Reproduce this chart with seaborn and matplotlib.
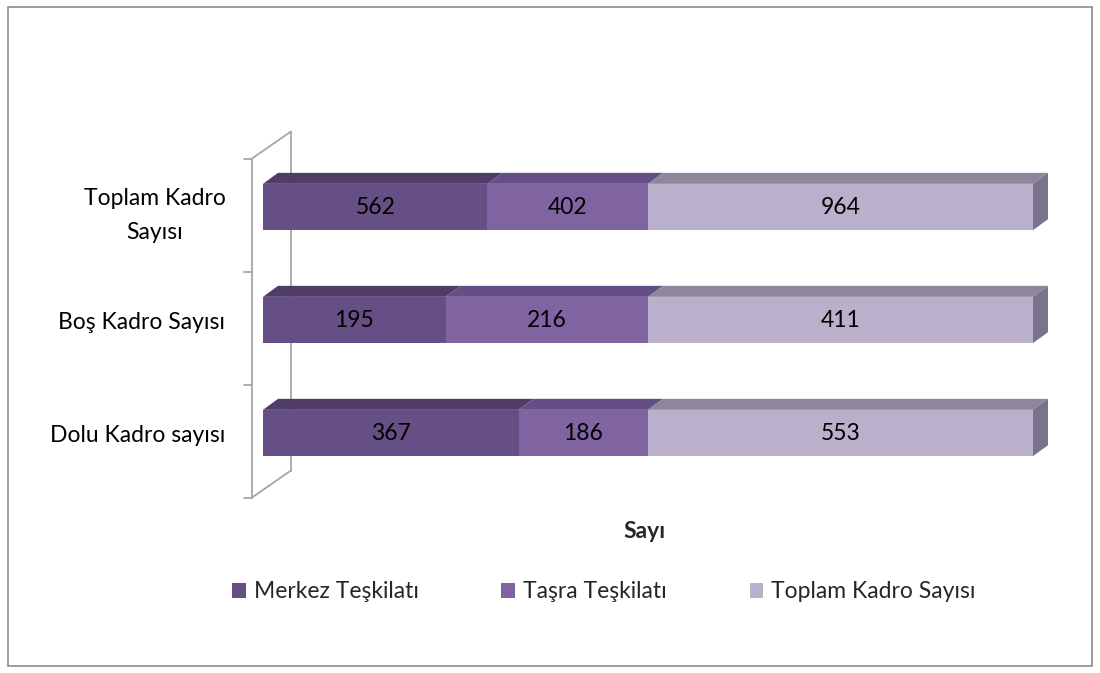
import matplotlib
matplotlib.use("Agg")
import matplotlib.pyplot as plt
import seaborn as sns
import pandas as pd
import numpy as np
from matplotlib.patches import Polygon, Rectangle, Patch
from matplotlib.lines import Line2D
from matplotlib.transforms import IdentityTransform

categories = ["Toplam Kadro\nSayısı", "Boş Kadro Sayısı", "Dolu Kadro sayısı"]
merkez = [562, 195, 367]
tasra = [402, 216, 186]
toplam = [964, 411, 553]
series_names = ["Merkez Teşkilatı", "Taşra Teşkilatı", "Toplam Kadro Sayısı"]

front_colors = ["#664F85", "#8064A2", "#BAB0CB"]
top_colors = ["#4F3D68", "#654E85", "#8E869A"]
side_color = "#7B7389"

sns.set_theme(style="white")
plt.rcParams["font.family"] = ["Lato", "DejaVu Sans"]
FS = 16.5

W, H = 1100, 673
fig = plt.figure(figsize=(W / 100, H / 100), dpi=100)
ax = fig.add_axes([263 / W, 183.5 / H, 770 / W, 339 / H])
ax.patch.set_visible(False)

tot = np.array(merkez) + np.array(tasra) + np.array(toplam)
p1 = np.array(merkez) / tot
p2 = (np.array(merkez) + np.array(tasra)) / tot
p3 = tot / tot
df = pd.DataFrame({"cat": categories, "c1": p1, "c2": p2, "c3": p3})

bw = 0.41
for col, c in zip(["c3", "c2", "c1"], front_colors[::-1]):
    sns.barplot(data=df, x=col, y="cat", orient="h", color=c, width=bw,
                saturation=1, ax=ax, linewidth=0, zorder=2)

ax.set_xlim(0, 1)
ax.set_ylim(2.5, -0.5)
ax.set_xlabel("")
ax.set_ylabel("")
ax.set_xticks([])
for s in ax.spines.values():
    s.set_visible(False)
ax.tick_params(axis="y", length=0, pad=27, labelsize=FS)
for lab in ax.get_yticklabels():
    lab.set_multialignment("center")
    lab.set_linespacing(1.75)
    lab.set_color("#000000")

# 3D decoration
fig.canvas.draw()
T = ax.transData
dx, dy = 15, 11
ident = IdentityTransform()

# wall
y0px = T.transform((0, -0.5))[1] - 8
y1px = T.transform((0, 2.5))[1] - 8
xl = T.transform((0, 0))[0] - 11
xb = xl + 39
wall_kw = dict(color="#A6A6A6", lw=1.3, transform=ident, clip_on=False, zorder=0)
fig.add_artist(Line2D([xl, xl], [y0px, y1px], **wall_kw))
fig.add_artist(Line2D([xb, xb], [y0px + 27, y1px + 27], **wall_kw))
fig.add_artist(Line2D([xl, xb], [y0px, y0px + 27], **wall_kw))
fig.add_artist(Line2D([xl, xb], [y1px, y1px + 27], **wall_kw))
for k in range(4):
    yy = y0px + (y1px - y0px) * k / 3
    fig.add_artist(Line2D([xl - 8, xl], [yy, yy], **wall_kw))

segs = [(np.zeros(3), p1), (p1, p2), (p2, p3)]
vals = [merkez, tasra, toplam]
for i in range(3):
    top_y = T.transform((0, i - bw / 2))[1]
    bot_y = T.transform((0, i + bw / 2))[1]
    for j, (a, b) in enumerate(segs):
        xa = T.transform((a[i], 0))[0]
        xb_ = T.transform((b[i], 0))[0]
        ax.add_patch(Polygon([(xa, top_y), (xb_, top_y), (xb_ + dx, top_y + dy), (xa + dx, top_y + dy)],
                             closed=True, facecolor=top_colors[j], edgecolor="none",
                             transform=ident, clip_on=False, zorder=3))
        ax.text((a[i] + b[i]) / 2, i, str(vals[j][i]), ha="center", va="center",
                fontsize=FS, color="#000000", zorder=5)
    xe = T.transform((1, 0))[0]
    ax.add_patch(Polygon([(xe, top_y), (xe + dx, top_y + dy), (xe + dx, bot_y + dy), (xe, bot_y)],
                         closed=True, facecolor=side_color, edgecolor="none",
                         transform=ident, clip_on=False, zorder=3))

fig.text(644 / W, 1 - 531 / H, "Sayı", ha="center", va="center", fontsize=FS, fontweight="bold")

handles = [Patch(facecolor=c, edgecolor="none") for c in front_colors]
fig.legend(handles, series_names, loc="center", bbox_to_anchor=(604 / W, 1 - 592 / H), ncol=3,
           frameon=False, fontsize=FS, handlelength=0.6, handleheight=0.6, handletextpad=0.35,
           columnspacing=3.6)

fig.add_artist(Rectangle((8 / W, 7 / H), 1084 / W, 659 / H, transform=fig.transFigure,
                         facecolor="none", edgecolor="#8C8C8C", lw=1.2))

fig.savefig("out.png", dpi=100)
